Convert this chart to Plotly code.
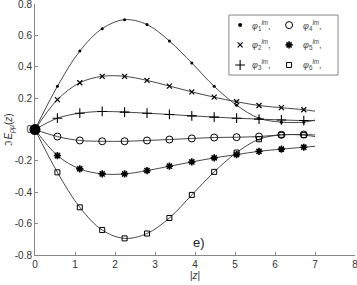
import plotly.graph_objects as go

x_marks = [0, 0.56, 1.12, 1.68, 2.24, 2.8, 3.36, 3.92, 4.48, 5.04, 5.6, 6.16, 6.72]
x_end = 7.0

phi1 = [0, 0.275, 0.50, 0.643, 0.70, 0.669, 0.564, 0.424, 0.275, 0.155, 0.072, 0.047, 0.047]
phi2 = [0, 0.19, 0.298, 0.339, 0.339, 0.313, 0.277, 0.24, 0.206, 0.177, 0.153, 0.139, 0.126]
phi3 = [0, 0.072, 0.104, 0.115, 0.111, 0.104, 0.096, 0.087, 0.079, 0.072, 0.066, 0.061, 0.057]
phi4 = [0, -0.045, -0.070, -0.075, -0.075, -0.070, -0.064, -0.057, -0.051, -0.049, -0.045, -0.034, -0.032]
phi5 = [0, -0.166, -0.251, -0.283, -0.283, -0.262, -0.234, -0.207, -0.181, -0.16, -0.139, -0.125, -0.113]
phi6 = [0, -0.273, -0.496, -0.641, -0.694, -0.663, -0.564, -0.417, -0.27, -0.147, -0.062, -0.034, -0.036]
end_vals = {"1": 0.06, "2": 0.117, "3": 0.057, "4": -0.035, "5": -0.107, "6": -0.045}

series_names = ["1", "2", "3", "4", "5", "6"]
series_vals = [phi1, phi2, phi3, phi4, phi5, phi6]
symbols = ["circle", "x-thin-open", "cross-thin-open", "circle-open", "asterisk-open", "square-open"]
sizes = [3, 5, 7, 7, 6, 5]
widths = [0, 1.2, 1.1, 1, 1.6, 1]

x_ticks = [0, 1, 2, 3, 4, 5, 6, 7, 8]
y_ticks = [-0.8, -0.6, -0.4, -0.2, 0, 0.2, 0.4, 0.6, 0.8]
y_ticktext = ["-0.8", "-0.6", "-0.4", "-0.2", "0", "0.2", "0.4", "0.6", "0.8"]

# legend layout (paper coordinates of the hand-built key box)
leg_box = dict(x0=0.606, x1=0.947, y0=0.717, y1=0.956)
leg_rows = [0.916, 0.837, 0.757]
leg_sym_x = [0.641, 0.794]
leg_txt_x = [0.672, 0.830]

fig = go.Figure()

# lines
for name, vals in zip(series_names, series_vals):
    fig.add_trace(go.Scatter(
        x=x_marks + [x_end], y=vals + [end_vals[name]],
        mode="lines", line=dict(color="#333333", width=0.9, shape="spline", smoothing=1.0),
        showlegend=False, hoverinfo="skip"))

# markers
for name, vals, sym, size, lw in zip(series_names, series_vals, symbols, sizes, widths):
    mk = dict(symbol=sym, size=size, color="black", line=dict(color="black", width=lw))
    fig.add_trace(go.Scatter(
        x=x_marks[1:], y=vals[1:], mode="markers", marker=mk, showlegend=False,
        name="phi%s" % name))

# origin dot (all series meet at the origin)
fig.add_trace(go.Scatter(x=[x_marks[0]], y=[phi1[0]], mode="markers", cliponaxis=False,
                         marker=dict(symbol="circle", size=11, color="black"),
                         showlegend=False, hoverinfo="skip"))

# legend key: box, symbols (on an overlay axis spanning the plot area), labels
fig.add_shape(type="rect", xref="paper", yref="paper", line=dict(color="#888888", width=1),
              fillcolor="white", layer="below", **leg_box)
for i, (name, sym, size, lw) in enumerate(zip(series_names, symbols, sizes, widths)):
    col, row = divmod(i, 3)
    fig.add_trace(go.Scatter(
        x=[leg_sym_x[col]], y=[leg_rows[row]], xaxis="x2", yaxis="y2", mode="markers",
        marker=dict(symbol=sym, size=size + (1 if size < 4 else 0), color="black",
                    line=dict(color="black", width=lw)),
        showlegend=False, hoverinfo="skip"))
    fig.add_annotation(xref="paper", yref="paper", x=leg_txt_x[col], y=leg_rows[row],
                       xanchor="left", yanchor="middle", showarrow=False,
                       text="<i>φ</i><sub>%s</sub><sup><i>lm</i></sup>," % name,
                       font=dict(size=9, color="#444444"))

fig.add_annotation(x=4.1, y=-0.72, text="e)", showarrow=False,
                   font=dict(size=13, color="#222222"))

axis_common = dict(showgrid=False, zeroline=False, showline=True, linecolor="#888888",
                   linewidth=1, ticks="inside", ticklen=3, tickcolor="#888888",
                   tickfont=dict(size=10, color="#333333"), automargin=False,
                   ticklabeloverflow="allow", layer="below traces")

fig.update_xaxes(range=[0, 8], tickvals=x_ticks, ticktext=[str(t) for t in x_ticks],
                 title=dict(text="|<i>z</i>|", font=dict(size=10, color="#333333"), standoff=0),
                 **axis_common)
fig.update_yaxes(range=[-0.8, 0.8], tickvals=y_ticks, ticktext=y_ticktext,
                 title=dict(text="ℑ<i>E</i><sub><i>ρμ</i></sub>(<i>z</i>)",
                            font=dict(size=10, color="#333333"), standoff=0),
                 **axis_common)

fig.update_layout(
    width=357, height=285,
    margin=dict(l=35, r=2, t=4, b=30),
    plot_bgcolor="white", paper_bgcolor="white",
    font=dict(family="Liberation Sans, Arial, sans-serif"),
    showlegend=False,
    xaxis2=dict(overlaying="x", range=[0, 1], visible=False, domain=[0, 1]),
    yaxis2=dict(overlaying="y", range=[0, 1], visible=False, domain=[0, 1]),
)

fig.write_html("out.html", config={"displayModeBar": False},
               post_script="document.body.style.margin='0px';document.body.style.overflow='hidden';")
